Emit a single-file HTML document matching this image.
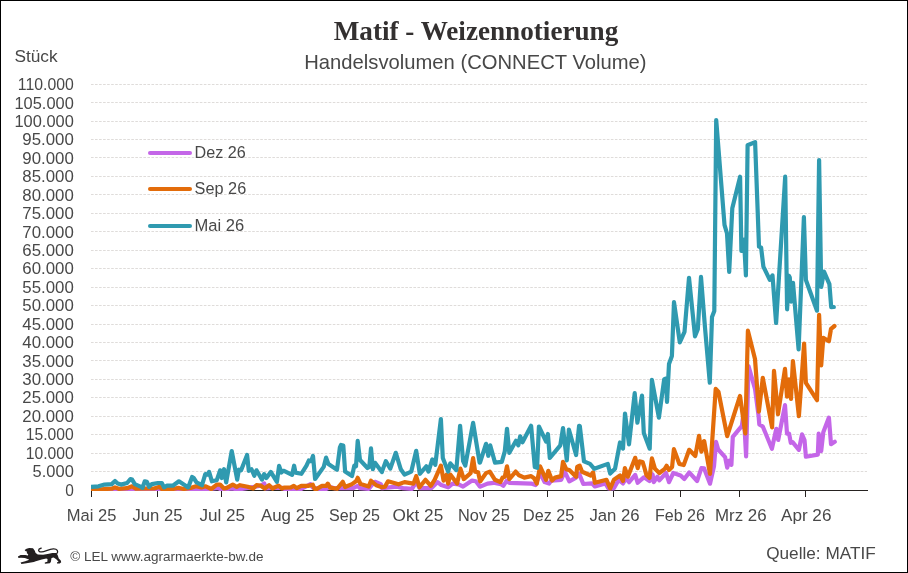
<!DOCTYPE html>
<html><head><meta charset="utf-8"><title>Matif - Weizennotierung</title>
<style>
html,body{margin:0;padding:0;background:#fff;}
body{width:908px;height:573px;overflow:hidden;position:relative;font-family:"Liberation Sans",sans-serif;}
#frame{position:absolute;left:0;top:0;width:906px;height:571px;border:1px solid #000;background:#fff;}
svg{position:absolute;left:0;top:0;will-change:transform;}
.sans{font-family:"Liberation Sans",sans-serif;fill:#484848;}
.serif{font-family:"Liberation Serif",serif;font-weight:bold;fill:#333030;}
</style></head>
<body>
<div id="frame"></div>
<svg width="908" height="573" viewBox="0 0 908 573">
<text class="serif" x="476" y="39.8" font-size="27" text-anchor="middle" textLength="284.6" lengthAdjust="spacingAndGlyphs">Matif - Weizennotierung</text>
<text class="sans" x="475.4" y="69.2" font-size="19.8" text-anchor="middle" textLength="342.3" lengthAdjust="spacingAndGlyphs">Handelsvolumen (CONNECT Volume)</text>
<text class="sans" x="14.4" y="62" font-size="16.8" textLength="43.2" lengthAdjust="spacingAndGlyphs">Stück</text>
<g stroke="#dfdcda" stroke-width="1" stroke-dasharray="2.6 1.43"><line x1="91" x2="867" y1="471.50" y2="471.50"/><line x1="91" x2="867" y1="453.50" y2="453.50"/><line x1="91" x2="867" y1="434.50" y2="434.50"/><line x1="91" x2="867" y1="416.50" y2="416.50"/><line x1="91" x2="867" y1="397.50" y2="397.50"/><line x1="91" x2="867" y1="379.50" y2="379.50"/><line x1="91" x2="867" y1="360.50" y2="360.50"/><line x1="91" x2="867" y1="342.50" y2="342.50"/><line x1="91" x2="867" y1="324.50" y2="324.50"/><line x1="91" x2="867" y1="305.50" y2="305.50"/><line x1="91" x2="867" y1="287.50" y2="287.50"/><line x1="91" x2="867" y1="268.50" y2="268.50"/><line x1="91" x2="867" y1="250.50" y2="250.50"/><line x1="91" x2="867" y1="231.50" y2="231.50"/><line x1="91" x2="867" y1="213.50" y2="213.50"/><line x1="91" x2="867" y1="194.50" y2="194.50"/><line x1="91" x2="867" y1="176.50" y2="176.50"/><line x1="91" x2="867" y1="157.50" y2="157.50"/><line x1="91" x2="867" y1="139.50" y2="139.50"/><line x1="91" x2="867" y1="121.50" y2="121.50"/><line x1="91" x2="867" y1="102.50" y2="102.50"/><line x1="91" x2="867" y1="84.50" y2="84.50"/></g>
<g class="sans" font-size="16.8" text-anchor="end"><text x="73.8" y="495.65" textLength="8.6" lengthAdjust="spacingAndGlyphs">0</text><text x="73.8" y="477.22" textLength="41.2" lengthAdjust="spacingAndGlyphs">5.000</text><text x="73.8" y="458.78" textLength="48.0" lengthAdjust="spacingAndGlyphs">10.000</text><text x="73.8" y="440.35" textLength="48.0" lengthAdjust="spacingAndGlyphs">15.000</text><text x="73.8" y="421.91" textLength="51.5" lengthAdjust="spacingAndGlyphs">20.000</text><text x="73.8" y="403.48" textLength="51.5" lengthAdjust="spacingAndGlyphs">25.000</text><text x="73.8" y="385.05" textLength="51.5" lengthAdjust="spacingAndGlyphs">30.000</text><text x="73.8" y="366.61" textLength="51.5" lengthAdjust="spacingAndGlyphs">35.000</text><text x="73.8" y="348.18" textLength="51.5" lengthAdjust="spacingAndGlyphs">40.000</text><text x="73.8" y="329.74" textLength="51.5" lengthAdjust="spacingAndGlyphs">45.000</text><text x="73.8" y="311.31" textLength="51.5" lengthAdjust="spacingAndGlyphs">50.000</text><text x="73.8" y="292.88" textLength="51.5" lengthAdjust="spacingAndGlyphs">55.000</text><text x="73.8" y="274.44" textLength="51.5" lengthAdjust="spacingAndGlyphs">60.000</text><text x="73.8" y="256.01" textLength="51.5" lengthAdjust="spacingAndGlyphs">65.000</text><text x="73.8" y="237.57" textLength="51.5" lengthAdjust="spacingAndGlyphs">70.000</text><text x="73.8" y="219.14" textLength="51.5" lengthAdjust="spacingAndGlyphs">75.000</text><text x="73.8" y="200.71" textLength="51.5" lengthAdjust="spacingAndGlyphs">80.000</text><text x="73.8" y="182.27" textLength="51.5" lengthAdjust="spacingAndGlyphs">85.000</text><text x="73.8" y="163.84" textLength="51.5" lengthAdjust="spacingAndGlyphs">90.000</text><text x="73.8" y="145.40" textLength="51.5" lengthAdjust="spacingAndGlyphs">95.000</text><text x="73.8" y="126.97" textLength="59.3" lengthAdjust="spacingAndGlyphs">100.000</text><text x="73.8" y="108.54" textLength="59.3" lengthAdjust="spacingAndGlyphs">105.000</text><text x="73.8" y="90.10" textLength="56.0" lengthAdjust="spacingAndGlyphs">110.000</text></g>
<g stroke="#262220" stroke-width="1" shape-rendering="crispEdges"><line x1="91" x2="868" y1="490.5" y2="490.5"/><line x1="91.5" x2="91.5" y1="490" y2="497"/><line x1="157.5" x2="157.5" y1="490" y2="497"/><line x1="221.5" x2="221.5" y1="490" y2="497"/><line x1="287.5" x2="287.5" y1="490" y2="497"/><line x1="353.5" x2="353.5" y1="490" y2="497"/><line x1="417.5" x2="417.5" y1="490" y2="497"/><line x1="483.5" x2="483.5" y1="490" y2="497"/><line x1="547.5" x2="547.5" y1="490" y2="497"/><line x1="613.5" x2="613.5" y1="490" y2="497"/><line x1="680.5" x2="680.5" y1="490" y2="497"/><line x1="739.5" x2="739.5" y1="490" y2="497"/><line x1="805.5" x2="805.5" y1="490" y2="497"/></g>
<clipPath id="plot"><rect x="91" y="60" width="780" height="431"/></clipPath>
<g fill="none" stroke-linejoin="round" stroke-linecap="round" stroke-width="4.2" clip-path="url(#plot)">
<path stroke="#c466e8" d="M89.1,490.4 L187.1,490.4 L197.0,489.6 L208.0,489.3 L217.9,487.9 L221.2,489.6 L232.3,488.5 L237.8,489.6 L251.0,487.4 L260.9,485.7 L264.2,483.5 L265.8,488.5 L271.9,487.9 L282.9,487.9 L284.0,488.8 L301.3,488.8 L310.5,484.1 L312.8,487.6 L318.6,488.8 L325.5,489.3 L330.1,487.0 L334.7,488.2 L353.1,488.2 L357.7,485.9 L360.0,488.2 L368.7,488.8 L371.6,485.3 L375.0,481.8 L380.8,484.1 L382.0,488.1 L389.5,487.3 L397.0,486.6 L403.0,488.1 L412.0,488.8 L416.2,482.1 L419.5,488.1 L431.5,488.1 L437.6,482.1 L441.3,485.1 L448.1,487.3 L452.6,483.6 L458.6,484.3 L463.1,486.6 L472.1,480.6 L475.8,481.3 L480.0,486.6 L480.3,486.6 L487.5,483.6 L493.5,482.8 L501.0,484.3 L503.3,485.8 L506.7,480.6 L509.3,482.8 L531.1,483.6 L535.6,485.1 L540.1,473.1 L544.6,482.1 L549.1,483.6 L551.3,480.6 L561.1,479.8 L564.8,471.6 L569.3,481.3 L576.1,477.6 L579.1,473.6 L583.3,484.0 L591.9,483.4 L594.9,486.5 L605.3,483.4 L608.4,488.3 L613.9,488.3 L618.8,479.8 L623.0,483.4 L626.1,478.5 L629.1,482.2 L635.2,474.9 L637.7,482.8 L643.2,477.9 L644.0,477.3 L649.5,481.0 L652.6,474.3 L653.8,482.2 L657.4,476.7 L659.3,480.4 L666.0,473.0 L669.0,482.2 L673.3,473.0 L680.6,475.5 L684.3,479.1 L689.2,472.4 L697.1,481.0 L701.4,468.1 L704.2,468.4 L704.5,469.4 L710.0,483.7 L714.0,466.3 L716.0,441.8 L718.2,449.5 L725.1,457.2 L727.2,467.7 L729.3,460.7 L731.4,464.9 L732.8,436.9 L741.9,425.8 L743.7,412.0 L746.1,456.5 L748.5,366.0 L755.0,388.8 L758.6,416.0 L759.3,424.4 L762.8,426.5 L771.9,448.8 L776.3,428.8 L778.2,440.0 L785.0,405.1 L787.0,433.7 L789.1,433.7 L790.8,442.8 L792.6,442.1 L798.9,449.8 L802.0,434.4 L804.5,440.0 L805.9,456.7 L817.8,454.6 L818.7,433.7 L821.2,451.1 L823.3,432.3 L828.9,417.6 L831.0,444.2 L834.8,441.8"/>
<path stroke="#e36c0a" d="M89.1,490.1 L91.3,490.1 L104.5,489.0 L111.7,488.7 L115.0,487.4 L118.8,488.8 L127.1,488.2 L132.1,486.3 L135.9,488.7 L154.1,488.5 L159.6,486.8 L161.8,489.0 L172.8,489.0 L178.3,487.9 L183.8,489.0 L190.4,487.9 L195.9,486.3 L201.4,487.4 L205.3,486.3 L208.0,487.4 L211.3,489.0 L216.8,484.6 L220.1,484.6 L224.0,488.5 L226.7,487.9 L232.8,484.6 L236.7,486.8 L240.0,485.2 L247.7,486.8 L253.2,488.5 L256.5,485.2 L260.9,485.7 L264.7,488.5 L269.1,485.2 L272.5,488.5 L278.5,485.7 L281.8,488.5 L284.0,487.6 L290.9,487.4 L293.8,485.9 L296.7,488.2 L301.3,485.9 L308.2,485.9 L312.8,484.7 L314.5,488.8 L316.8,488.8 L322.0,485.9 L326.1,485.9 L327.8,483.6 L330.1,487.6 L337.0,488.8 L342.8,481.8 L345.1,487.0 L352.0,484.1 L356.0,481.3 L357.7,477.8 L360.6,484.1 L368.7,486.5 L371.0,480.7 L376.2,485.3 L382.0,487.3 L385.0,486.6 L388.0,481.3 L398.5,484.3 L404.5,482.1 L413.5,483.6 L416.2,476.1 L419.5,487.3 L425.5,479.8 L430.8,485.8 L434.6,479.8 L440.9,465.6 L443.6,480.6 L446.6,474.6 L448.1,483.6 L450.3,474.6 L457.1,483.6 L460.4,468.6 L463.8,479.1 L470.6,473.1 L473.1,458.0 L475.1,471.6 L478.1,472.3 L480.0,480.6 L480.3,481.3 L486.0,473.1 L489.8,471.6 L495.0,479.8 L500.3,482.1 L502.5,477.6 L504.8,476.8 L507.0,466.3 L509.3,479.1 L515.7,471.6 L519.0,475.3 L524.3,477.6 L531.1,476.1 L534.1,478.3 L536.8,483.6 L540.1,466.3 L546.1,479.8 L548.3,470.8 L552.1,480.6 L555.1,477.6 L561.1,476.1 L563.0,461.8 L566.3,469.3 L569.3,470.1 L576.1,476.8 L577.2,466.9 L578.3,466.3 L579.7,465.7 L582.1,471.8 L590.7,475.5 L593.1,472.4 L594.9,482.8 L606.5,479.8 L610.2,488.3 L613.9,479.8 L620.0,475.5 L623.0,481.0 L624.9,468.1 L627.9,476.7 L635.2,457.8 L637.7,468.1 L639.5,461.4 L642.6,462.0 L644.0,466.3 L646.4,474.9 L649.5,477.9 L651.9,458.4 L655.0,468.8 L659.3,473.0 L664.8,468.8 L666.6,465.7 L669.0,470.0 L672.1,466.9 L673.9,449.2 L679.4,463.9 L683.7,465.1 L689.2,449.8 L695.3,455.9 L699.0,435.8 L701.4,451.7 L703.9,441.3 L704.2,441.1 L710.0,473.9 L715.7,388.8 L718.5,392.0 L727.2,436.2 L740.0,395.9 L745.3,433.5 L747.9,330.7 L755.0,359.0 L758.9,411.6 L762.8,377.8 L772.1,427.4 L774.0,370.9 L778.0,414.2 L785.0,368.8 L787.0,396.7 L788.9,379.3 L791.0,398.8 L792.9,361.1 L798.9,416.2 L804.1,343.7 L805.9,382.8 L817.0,400.2 L819.1,314.9 L821.2,365.3 L823.3,337.9 L828.9,341.2 L831.0,328.8 L834.5,326.0"/>
<path stroke="#2f9ab0" d="M89.1,486.8 L91.3,486.8 L98.5,486.3 L104.5,484.6 L111.7,484.1 L115.0,481.0 L117.7,483.5 L121.0,484.6 L127.1,483.0 L130.4,479.1 L132.1,479.6 L134.8,484.1 L139.8,486.3 L142.5,487.9 L144.7,481.3 L146.9,481.9 L149.1,486.8 L151.9,484.1 L157.9,483.0 L161.8,483.0 L164.0,487.4 L166.7,485.7 L172.8,485.7 L178.9,481.3 L184.9,485.2 L188.2,487.4 L192.1,476.9 L193.7,478.0 L196.5,482.4 L202.0,485.2 L205.3,474.1 L207.5,474.7 L209.1,471.9 L211.9,481.3 L216.8,480.2 L220.1,470.3 L221.8,478.0 L224.0,469.2 L226.2,482.4 L231.7,451.0 L237.2,479.6 L238.9,469.7 L241.1,470.3 L247.1,454.9 L248.8,470.8 L251.5,469.2 L254.3,475.8 L256.5,470.3 L262.0,479.6 L264.2,474.1 L266.4,478.0 L270.8,471.9 L276.9,481.9 L279.1,465.9 L281.3,472.5 L282.9,470.8 L284.0,470.9 L292.1,474.9 L294.1,465.7 L295.5,472.6 L301.3,473.8 L306.5,465.7 L308.8,460.5 L311.1,461.1 L313.0,455.9 L315.1,479.0 L323.7,466.9 L326.1,457.6 L328.4,464.0 L337.0,469.7 L339.9,447.3 L341.0,445.0 L343.3,445.6 L345.1,471.5 L352.0,476.1 L354.3,465.7 L356.0,466.3 L357.7,440.9 L360.0,460.0 L367.5,468.0 L369.3,466.9 L371.0,448.4 L372.9,469.2 L375.0,462.8 L381.9,472.1 L382.0,471.6 L385.8,461.1 L390.3,468.6 L395.8,452.8 L400.8,469.3 L404.5,474.6 L411.3,471.6 L416.2,450.8 L419.8,473.8 L426.3,466.3 L428.5,471.6 L432.3,459.5 L435.3,464.8 L440.9,419.0 L442.8,458.0 L448.1,471.6 L450.3,463.3 L456.3,470.1 L460.1,425.8 L463.1,461.1 L465.3,465.6 L473.1,422.8 L479.6,462.6 L480.0,462.6 L486.0,443.8 L488.3,455.8 L490.2,445.3 L495.0,462.6 L501.8,461.8 L504.8,451.3 L507.0,428.8 L509.3,452.8 L516.0,440.8 L518.3,445.3 L520.2,436.3 L522.5,442.3 L531.1,425.8 L534.8,467.1 L537.1,467.8 L538.9,426.5 L546.1,441.5 L547.9,434.0 L549.8,458.0 L560.3,445.3 L563.0,428.0 L566.8,460.3 L568.9,429.5 L576.1,455.0 L579.1,425.8 L579.8,426.0 L584.0,461.4 L590.0,463.9 L594.3,468.8 L607.8,463.9 L610.2,473.6 L615.0,468.8 L620.0,442.5 L623.0,448.6 L625.0,413.6 L629.0,444.3 L634.7,393.2 L637.4,422.7 L642.0,395.5 L643.8,432.9 L649.7,448.7 L651.9,379.8 L658.9,417.7 L664.2,379.2 L666.0,378.6 L667.0,401.8 L669.0,364.0 L671.9,356.0 L674.0,302.2 L679.8,342.4 L684.5,331.9 L689.0,277.8 L695.0,336.3 L697.8,329.3 L701.0,276.9 L705.0,327.6 L709.8,382.7 L712.0,317.0 L714.3,311.0 L716.2,120.0 L724.5,224.8 L727.0,233.5 L729.2,271.9 L732.3,208.2 L740.1,176.7 L741.4,251.0 L744.0,239.6 L745.9,275.4 L747.6,145.3 L755.1,142.1 L759.0,246.6 L761.1,247.5 L763.4,266.7 L769.8,279.8 L772.5,275.4 L776.1,323.0 L785.2,176.7 L787.1,309.3 L788.9,275.8 L789.8,277.5 L791.2,301.6 L793.0,282.8 L798.6,349.3 L803.9,217.0 L805.9,280.0 L817.0,310.7 L819.1,160.0 L821.2,287.0 L824.0,271.6 L829.4,284.2 L831.2,307.2 L833.8,307.0"/>
</g>
<g class="sans" font-size="16.8"><text x="66.8" y="521.4" textLength="49.6" lengthAdjust="spacingAndGlyphs">Mai 25</text><text x="132.5" y="521.4" textLength="49.9" lengthAdjust="spacingAndGlyphs">Jun 25</text><text x="199.4" y="521.4" textLength="45.6" lengthAdjust="spacingAndGlyphs">Jul 25</text><text x="261.0" y="521.4" textLength="53.4" lengthAdjust="spacingAndGlyphs">Aug 25</text><text x="329.1" y="521.4" textLength="50.9" lengthAdjust="spacingAndGlyphs">Sep 25</text><text x="392.6" y="521.4" textLength="50.6" lengthAdjust="spacingAndGlyphs">Okt 25</text><text x="458.0" y="521.4" textLength="51.8" lengthAdjust="spacingAndGlyphs">Nov 25</text><text x="523.0" y="521.4" textLength="51.2" lengthAdjust="spacingAndGlyphs">Dez 25</text><text x="589.4" y="521.4" textLength="50.3" lengthAdjust="spacingAndGlyphs">Jan 26</text><text x="654.9" y="521.4" textLength="50.1" lengthAdjust="spacingAndGlyphs">Feb 26</text><text x="715.0" y="521.4" textLength="51.6" lengthAdjust="spacingAndGlyphs">Mrz 26</text><text x="781.0" y="521.4" textLength="50.4" lengthAdjust="spacingAndGlyphs">Apr 26</text></g>
<g fill="none" stroke-linecap="round" stroke-width="4">
<line x1="150" x2="190" y1="153.1" y2="153.1" stroke="#c466e8"/>
<line x1="150" x2="190" y1="189.1" y2="189.1" stroke="#e36c0a"/>
<line x1="150" x2="190" y1="226" y2="226" stroke="#2f9ab0"/>
</g>
<g class="sans" font-size="16.8">
<text x="194.6" y="157.8" textLength="51.2" lengthAdjust="spacingAndGlyphs">Dez 26</text>
<text x="194.6" y="194.1" textLength="51.6" lengthAdjust="spacingAndGlyphs">Sep 26</text>
<text x="194.6" y="230.7" textLength="49.6" lengthAdjust="spacingAndGlyphs">Mai 26</text>
</g>
<g transform="translate(10,540) scale(0.0661)">
<path d="M222,150 L250,133 L290,120 L348,126 L373,160 L388,198 L420,218 L500,224 L570,212 L640,198 L702,196 L722,230 L738,280 L768,310 L775,335 L752,355 L710,355 L713,336 L735,328 L700,292 L660,264 L628,274 L618,332 L602,353 L528,358 L526,340 L565,330 L568,288 L548,278 L480,294 L390,322 L360,334 L250,352 L172,362 L160,342 L230,320 L292,298 L275,290 L225,274 L165,268 L128,274 L120,250 L160,228 L230,228 L272,236 L275,215 L252,197 L260,177 L232,166 Z" fill="#231f20"/>
<path d="M708,205 C738,170 715,132 655,135 C590,140 530,175 480,181 C445,184 420,162 440,138 L472,122" fill="none" stroke="#231f20" stroke-width="19" stroke-linecap="round"/>
</g>
<text class="sans" x="70.2" y="561.3" font-size="13.4" textLength="193.3" lengthAdjust="spacingAndGlyphs">© LEL www.agrarmaerkte-bw.de</text>
<text class="sans" x="875.7" y="559" font-size="17" text-anchor="end" textLength="109.5" lengthAdjust="spacingAndGlyphs">Quelle: MATIF</text>
</svg>
</body></html>
